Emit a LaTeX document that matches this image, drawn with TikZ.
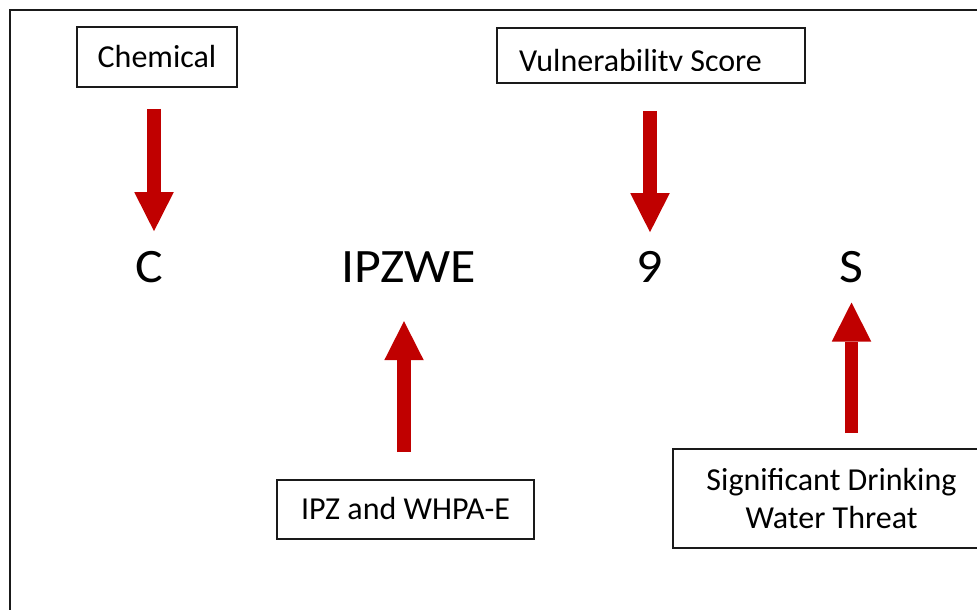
\documentclass[tikz,border=0pt]{standalone}
\usepackage{fontspec}
\usepackage{graphicx}
\setmainfont{Carlito}
\usetikzlibrary{arrows.meta}
\definecolor{arrowred}{HTML}{C00000}
\definecolor{frameline}{HTML}{1A1A1A}
\newcommand{\widen}[1]{\scalebox{1.08}[1]{#1}}
\begin{document}
\begin{tikzpicture}[x=1pt,y=-1pt,
  lbl/.style={draw=frameline, line width=1.6pt, font=\fontsize{32}{38}\selectfont, inner sep=0pt, align=center},
  captext/.style={text height=20pt, text depth=0pt},
  big/.style={font=\fontsize{48}{48}\selectfont, anchor=base, inner sep=0pt},
  fat/.style={draw=arrowred, line width=13.5pt, -{Triangle[width=39.5pt,length=39pt,line width=0pt]}}]
\useasboundingbox (0,0) rectangle (977,610);
% outer frame (partly outside the page)
\draw[frameline, line width=2pt] (995,10) -- (10,10) -- (10,625);
% label boxes
\node[lbl,captext,minimum width=160pt,minimum height=60pt] (chem) at (157,57) {Chemical};
\node[draw=frameline, line width=1.6pt, minimum width=308pt, minimum height=55pt, inner sep=0pt] (vs) at (651,55.5) {};
\begin{scope}
  \clip (497,28) rectangle (805,70.2);
  \node[font=\fontsize{32}{38}\selectfont, anchor=base, inner sep=0pt] (vst) at (640.5,71) {Vulnerability Score};
\end{scope}
\node[lbl,captext,minimum width=257pt,minimum height=59pt] (ipz) at (405.5,509.5) {IPZ and WHPA-E};
\node[lbl,minimum width=317pt,minimum height=99pt] (sdwt) at (831.5,498.5) {Significant Drinking\\Water Threat};
% code letters
\node[big] (c) at (149,282.5) {\widen{C}};
\node[big] (ipzwe) at (408.5,282.5) {\widen{IPZWE}};
\node[big] (nine) at (650,282.5) {\widen{9}};
\node[big] (s) at (851.5,282.5) {\widen{S}};
% arrows
\draw[fat] ([xshift=-3pt,yshift=-21pt]chem.south) -- ([xshift=5pt,yshift=20pt]c.north);
\draw[fat] ([xshift=-1pt,yshift=-27pt]vs.south) -- ([yshift=19pt]nine.north);
\draw[fat] ([xshift=-1.5pt,yshift=27pt]ipz.north) -- ([xshift=-4.5pt,yshift=-38.5pt]ipzwe.south);
\draw[fat] ([xshift=20pt,yshift=15pt]sdwt.north) -- ([yshift=-19.5pt]s.south);
\end{tikzpicture}
\end{document}
